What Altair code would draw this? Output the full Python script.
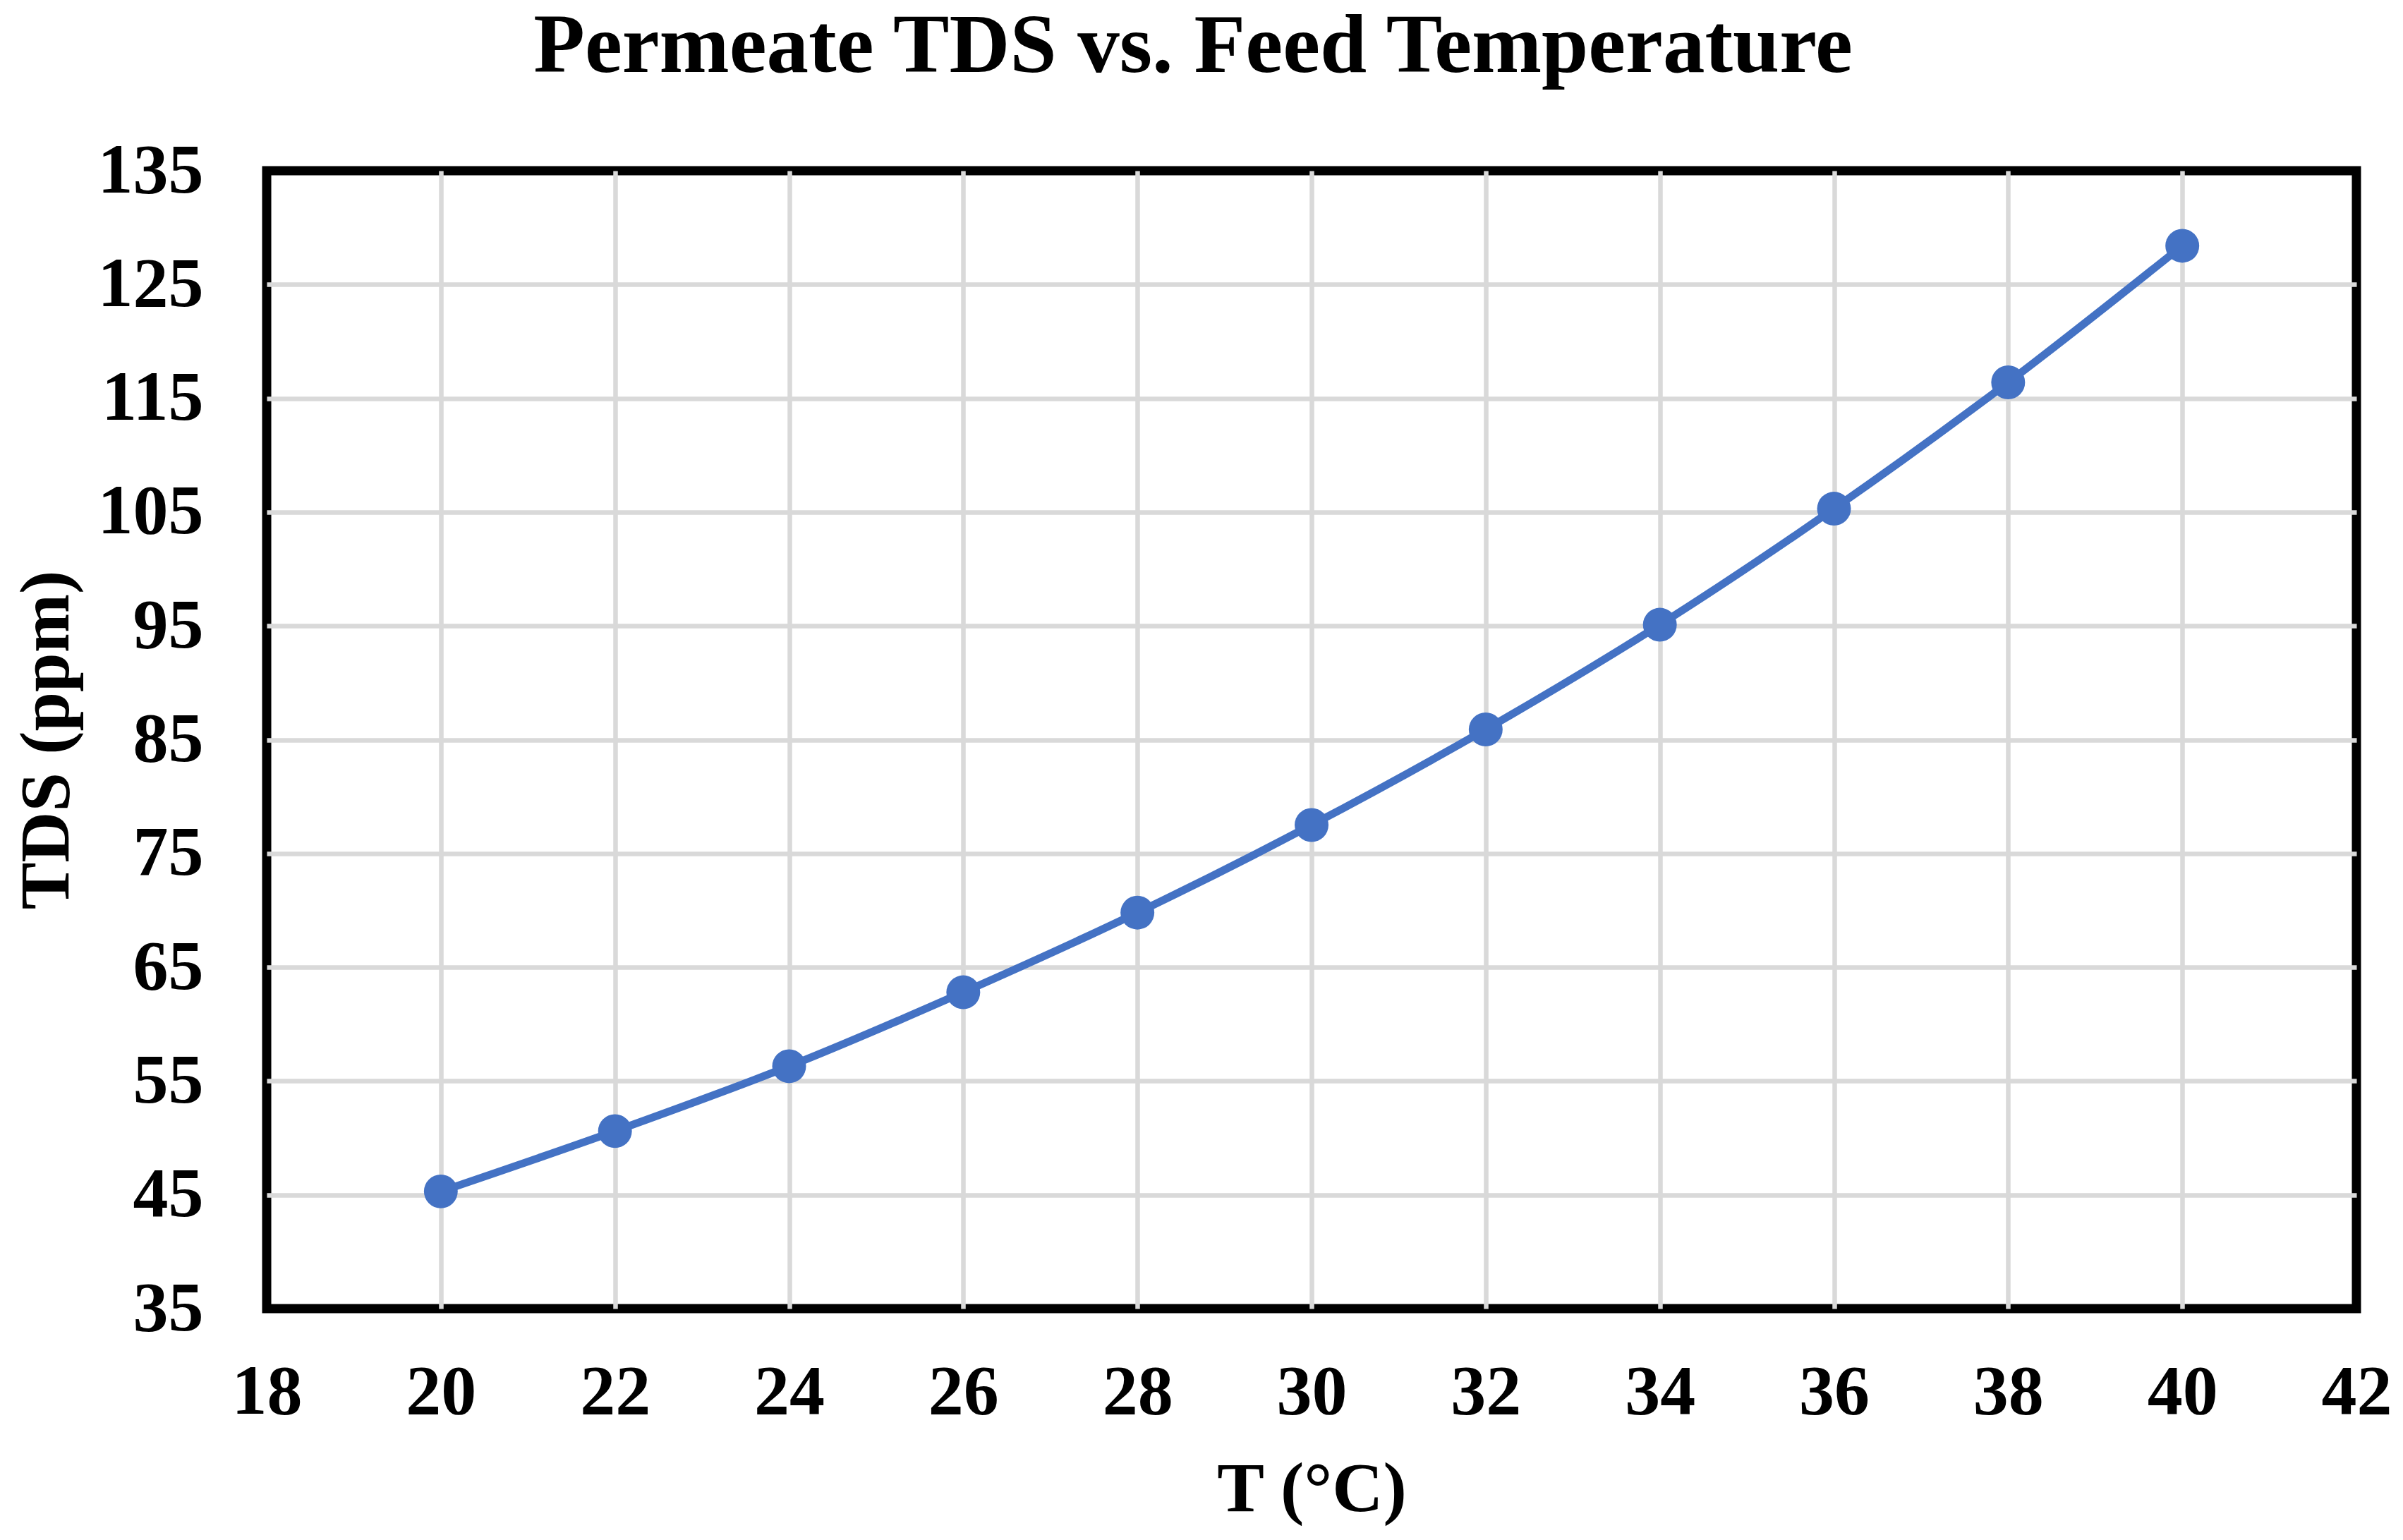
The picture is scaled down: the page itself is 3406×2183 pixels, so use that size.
import altair as alt
import pandas as pd

# ---- data ----
temps = [20, 22, 24, 26, 28, 30, 32, 34, 36, 38, 40]
tds = [45.3, 50.6, 56.3, 62.8, 69.8, 77.5, 85.9, 95.1, 105.3, 116.4, 128.4]
x_ticks = [18, 20, 22, 24, 26, 28, 30, 32, 34, 36, 38, 40, 42]
y_ticks = [35, 45, 55, 65, 75, 85, 95, 105, 115, 125, 135]

df = pd.DataFrame({"T": temps, "TDS": tds})

W, H = 2962, 1613
FONT = "Liberation Serif"
BLUE = "#4472C4"
GRID = "#D9D9D9"

x_enc = alt.X(
    "T:Q",
    scale=alt.Scale(domain=[18, 42], nice=False, zero=False),
    axis=alt.Axis(
        values=x_ticks,
        title="T (°C)",
        grid=True,
        gridColor=GRID,
        gridWidth=6.5,
        gridOpacity=alt.condition("datum.value <= 18 || datum.value >= 42", alt.value(0), alt.value(1)),
        domain=False,
        ticks=False,
        tickSize=0,
        labelPadding=69,
        labelFontSize=100,
        labelFont=FONT,
        labelFontWeight="bold",
        labelColor="black",
        labelFlush=False,
        labelOverlap=False,
        titleFontSize=100,
        titleFont=FONT,
        titleFontWeight="bold",
        titleColor="black",
        titleBaseline="alphabetic",
        titleAlign="center",
        titleX=W / 2,
        titleY=286,
    ),
)

y_enc = alt.Y(
    "TDS:Q",
    scale=alt.Scale(domain=[35, 135], nice=False, zero=False),
    axis=alt.Axis(
        values=y_ticks,
        title="TDS (ppm)",
        grid=True,
        gridColor=GRID,
        gridWidth=6.5,
        gridOpacity=alt.condition("datum.value <= 35 || datum.value >= 135", alt.value(0), alt.value(1)),
        domain=False,
        ticks=False,
        tickSize=0,
        labelPadding=90,
        labelFontSize=100,
        labelFont=FONT,
        labelFontWeight="bold",
        labelColor="black",
        labelFlush=False,
        labelOverlap=False,
        titleFontSize=100,
        titleFont=FONT,
        titleFontWeight="bold",
        titleColor="black",
        titleBaseline="alphabetic",
        titleAlign="center",
        titleX=-282,
        titleY=H / 2,
    ),
)

base = alt.Chart(df).encode(x=x_enc, y=y_enc)

line = base.mark_line(color=BLUE, strokeWidth=11, interpolate="catmull-rom")
points = base.mark_circle(color=BLUE, size=2300, opacity=1)

chart = (
    alt.layer(line, points)
    .properties(
        width=W,
        height=H,
        title=alt.Title(
            "Permeate TDS vs. Feed Temperature",
            fontSize=119,
            font=FONT,
            fontWeight="bold",
            color="black",
            baseline="alphabetic",
            offset=0,
            dx=-168,
            dy=29,
            anchor="middle",
            frame="group",
        ),
        padding={"left": 370, "top": 234, "right": 50, "bottom": 318},
        autosize=alt.AutoSizeParams(type="none"),
        background="white",
    )
    .configure_view(stroke="black", strokeWidth=13)
)

chart.save("out.html", embed_options={"renderer": "svg", "actions": False})
